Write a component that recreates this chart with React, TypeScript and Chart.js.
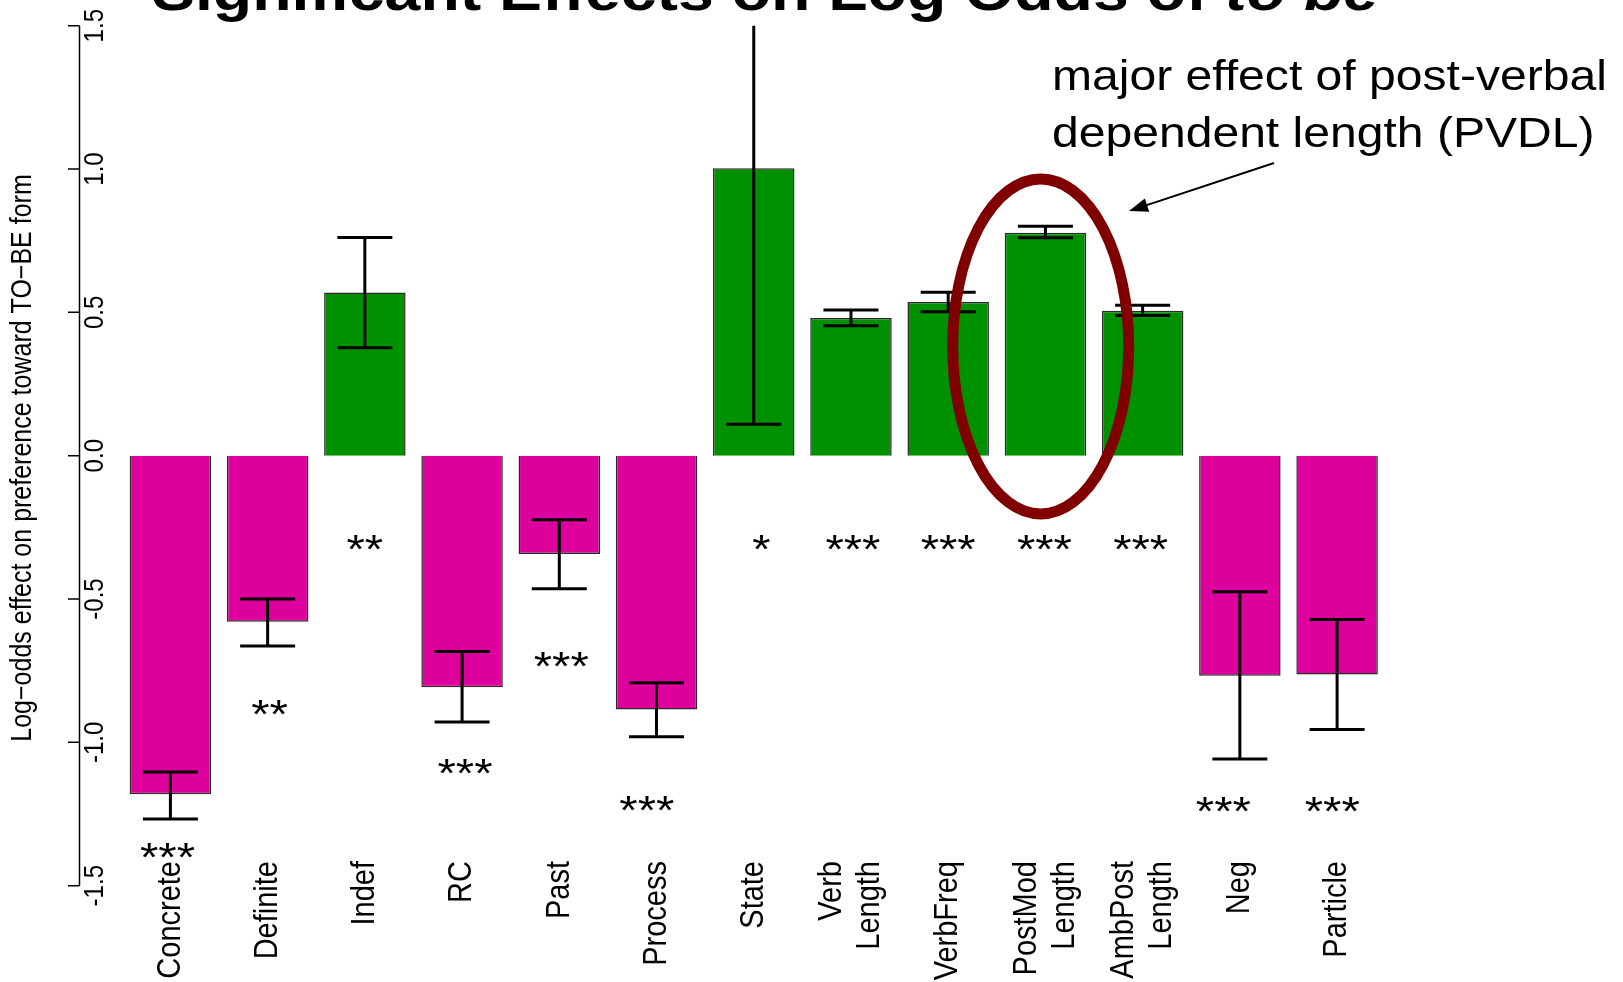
import React, { useEffect, useRef } from "react";
import { Chart, registerables } from "chart.js";

Chart.register(...registerables);

// ---- data ----
const categories: string[][] = [
  ["Concrete"], ["Definite"], ["Indef"], ["RC"], ["Past"], ["Process"], ["State"],
  ["Verb", "Length"], ["VerbFreq"], ["PostMod", "Length"], ["AmbPost", "Length"], ["Neg"], ["Particle"],
];
const effects = [-1.181, -0.579, 0.569, -0.808, -0.343, -0.885, 1.003, 0.48, 0.536, 0.778, 0.506, -0.768, -0.763];
const errLow = [-1.267, -0.664, 0.377, -0.929, -0.464, -0.98, 0.11, 0.453, 0.502, 0.76, 0.489, -1.058, -0.955];
const errHigh = [-1.103, -0.5, 0.761, -0.683, -0.223, -0.792, 1.9, 0.508, 0.57, 0.8, 0.525, -0.475, -0.571];
// significance markers: text, category position, log-odds position
const stars = ["***", "**", "**", "***", "***", "***", "*", "***", "***", "***", "***", "***", "***"];
const starX = [-0.03, 1.02, 2.0, 3.03, 4.02, 4.9, 6.08, 7.02, 8.0, 8.99, 9.98, 10.83, 11.95];
const starY = [-1.382, -0.881, -0.305, -1.087, -0.713, -1.216, -0.306, -0.306, -0.306, -0.306, -0.306, -1.219, -1.219];
const yTicks = [-1.5, -1.0, -0.5, 0, 0.5, 1.0, 1.5];
const yTickLabels = ["-1.5", "-1.0", "-0.5", "0.0", "0.5", "1.0", "1.5"];
const yTitle = "Log\u2212odds effect on preference toward TO\u2212BE form";
const titleMain = "Significant Effects on Log Odds of ";
const titleItalic = "to be";
const noteLines = ["major effect of post-verbal", "dependent length (PVDL)"];
const highlightIndex = 9;

const MAGENTA = "#DD009C";
const GREEN = "#009100";
const FONT = "'Liberation Sans', Arial, Helvetica, sans-serif";
const SX = 1.15; // horizontal text stretch of the figure

function drawText(
  ctx: CanvasRenderingContext2D,
  text: string,
  x: number,
  y: number,
  size: number,
  align: CanvasTextAlign,
  baseline: CanvasTextBaseline,
  rotate = false,
  weight = "normal",
  style = "normal"
) {
  ctx.save();
  ctx.translate(x, y);
  ctx.scale(SX, 1);
  if (rotate) ctx.rotate(-Math.PI / 2);
  ctx.font = `${style} ${weight} ${size}px ${FONT}`;
  ctx.textAlign = align;
  ctx.textBaseline = baseline;
  ctx.fillStyle = "#000";
  ctx.fillText(text, 0, 0);
  ctx.restore();
}

const errorBarPlugin = {
  id: "errorBars",
  afterDatasetsDraw(chart: any) {
    const { ctx, chartArea, scales } = chart;
    const meta = chart.getDatasetMeta(0);
    const y = scales.y;
    ctx.save();
    ctx.beginPath();
    ctx.rect(chartArea.left - 200, chartArea.top, chartArea.right - chartArea.left + 400, chartArea.bottom - chartArea.top);
    ctx.clip();
    ctx.strokeStyle = "#000";
    ctx.lineWidth = 3;
    const half = 27.5;
    meta.data.forEach((bar: any, i: number) => {
      const x = bar.x;
      const y0 = y.getPixelForValue(errLow[i]);
      const y1 = y.getPixelForValue(errHigh[i]);
      ctx.beginPath();
      ctx.moveTo(x, y0);
      ctx.lineTo(x, y1);
      ctx.moveTo(x - half, y0);
      ctx.lineTo(x + half, y0);
      ctx.moveTo(x - half, y1);
      ctx.lineTo(x + half, y1);
      ctx.stroke();
    });
    ctx.restore();
  },
};

const decorPlugin = {
  id: "decor",
  afterDraw(chart: any) {
    const { ctx, scales } = chart;
    const y = scales.y;
    const x = scales.x;
    const meta = chart.getDatasetMeta(0);

    // title (partly above the page)
    ctx.save();
    ctx.font = `normal bold 56px ${FONT}`;
    const wMain = ctx.measureText(titleMain).width * SX;
    ctx.restore();
    drawText(ctx, titleMain, 152, 10, 56, "left", "alphabetic", false, "bold");
    drawText(ctx, titleItalic, 152 + wMain, 10, 56, "left", "alphabetic", false, "bold", "italic");

    // y axis
    const axX = 79.5;
    ctx.save();
    ctx.strokeStyle = "#000";
    ctx.lineWidth = 1.5;
    ctx.beginPath();
    ctx.moveTo(axX, y.getPixelForValue(yTicks[0]));
    ctx.lineTo(axX, y.getPixelForValue(yTicks[yTicks.length - 1]));
    yTicks.forEach((t) => {
      const py = y.getPixelForValue(t);
      ctx.moveTo(68, py);
      ctx.lineTo(axX, py);
    });
    ctx.stroke();
    ctx.restore();
    yTicks.forEach((t, i) => {
      drawText(ctx, yTickLabels[i], 95, y.getPixelForValue(t), 24, "center", "middle", true);
    });
    drawText(ctx, yTitle, 23, 458, 25, "center", "middle", true);

    // category labels
    meta.data.forEach((bar: any, i: number) => {
      const lines = categories[i];
      const gap = 38;
      lines.forEach((ln, k) => {
        const off = (k - (lines.length - 1) / 2) * gap;
        drawText(ctx, ln, bar.x + off, 861, 29, "right", "middle", true);
      });
    });

    // significance stars
    stars.forEach((s, i) => {
      const size = 41;
      drawText(
        ctx,
        s,
        x.getPixelForValue(starX[i]),
        y.getPixelForValue(starY[i]) + 0.575 * size - 4,
        size,
        "center",
        "alphabetic"
      );
    });

    // note text
    drawText(ctx, noteLines[0], 1052, 90, 41.8, "left", "alphabetic");
    drawText(ctx, noteLines[1], 1052, 147, 41.8, "left", "alphabetic");

    // arrow
    const ax0 = 1274, ay0 = 163, ax1 = 1129, ay1 = 211;
    const ang = Math.atan2(ay1 - ay0, ax1 - ax0);
    ctx.save();
    ctx.strokeStyle = "#000";
    ctx.fillStyle = "#000";
    ctx.lineWidth = 2;
    ctx.beginPath();
    ctx.moveTo(ax0, ay0);
    ctx.lineTo(ax1 - Math.cos(ang) * 10, ay1 - Math.sin(ang) * 10);
    ctx.stroke();
    const hl = 19, hw = 7;
    ctx.beginPath();
    ctx.moveTo(ax1, ay1);
    ctx.lineTo(ax1 - hl * Math.cos(ang) + hw * Math.sin(ang), ay1 - hl * Math.sin(ang) - hw * Math.cos(ang));
    ctx.lineTo(ax1 - hl * Math.cos(ang) - hw * Math.sin(ang), ay1 - hl * Math.sin(ang) + hw * Math.cos(ang));
    ctx.closePath();
    ctx.fill();
    ctx.restore();

    // highlight ellipse around the PostMod Length bar
    const hb = meta.data[highlightIndex];
    ctx.save();
    ctx.strokeStyle = "#800000";
    ctx.lineWidth = 11;
    ctx.beginPath();
    ctx.ellipse(hb.x - 4.7, y.getPixelForValue(0.381), 88, 167.5, 0, 0, Math.PI * 2);
    ctx.stroke();
    ctx.restore();
  },
};

export default function App() {
  const ref = useRef<HTMLCanvasElement | null>(null);

  useEffect(() => {
    if (!ref.current) return;
    const chart = new Chart(ref.current, {
      type: "bar",
      data: {
        labels: categories.map((c) => c.join(" ")),
        datasets: [
          {
            data: effects,
            backgroundColor: effects.map((v) => (v >= 0 ? GREEN : MAGENTA)),
            borderColor: "#2a2a2a",
            borderWidth: 1.5,
            categoryPercentage: 0.838,
            barPercentage: 1,
          },
        ],
      },
      options: {
        responsive: false,
        animation: false,
        events: [],
        layout: { padding: { left: 121.8, right: 1623 - 1385.7, top: 25.7, bottom: 982 - 885.7 } },
        plugins: { legend: { display: false }, tooltip: { enabled: false }, title: { display: false } },
        scales: {
          x: { type: "category", display: false, offset: true, grid: { display: false } },
          y: { type: "linear", display: false, min: -1.5, max: 1.5 },
        },
      },
      plugins: [errorBarPlugin, decorPlugin],
    });
    return () => chart.destroy();
  }, []);

  return (
    <canvas
      ref={ref}
      width={1623}
      height={982}
      style={{ position: "absolute", left: 0, top: 0, background: "#fff" }}
    />
  );
}
